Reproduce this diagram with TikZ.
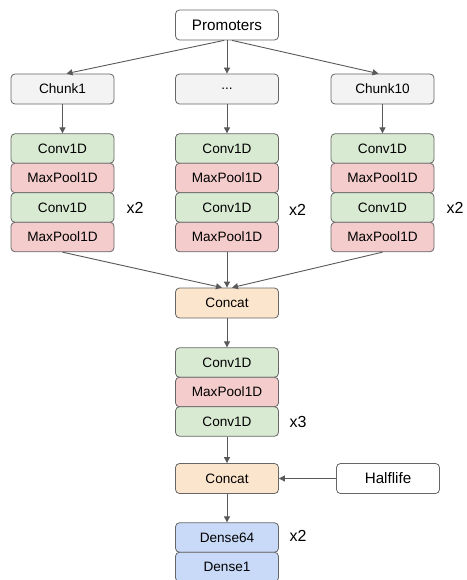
\documentclass[tikz,border=0pt]{standalone}
\usepackage{fontspec}
\setmainfont{Liberation Sans}
\usetikzlibrary{arrows.meta,calc}
\definecolor{bordc}{HTML}{666666}
\definecolor{arrc}{HTML}{595959}
\definecolor{convc}{HTML}{D9EAD3}
\definecolor{poolc}{HTML}{F4CCCC}
\definecolor{catc}{HTML}{FCE5CD}
\definecolor{densec}{HTML}{C9DAF8}
\definecolor{chunkc}{HTML}{F3F3F3}
\tikzset{
  layer/.style={draw=bordc, line width=0.8pt, rounded corners=4pt, minimum width=103pt, minimum height=29.5pt, inner sep=0pt, font=\fontsize{13.6}{15}\selectfont},
  conv/.style={layer, fill=convc},
  pool/.style={layer, fill=poolc},
  cat/.style={layer, fill=catc, minimum height=30pt},
  dense/.style={layer, fill=densec},
  chunk/.style={layer, fill=chunkc, minimum height=30pt},
  inbox/.style={layer, fill=white, minimum height=30pt, font=\fontsize{15.2}{17}\selectfont},
  rep/.style={font=\fontsize{16}{18}\selectfont, inner sep=0pt},
  arr/.style={draw=arrc, line width=0.9pt, -{Triangle[length=6pt,width=6pt]}}
}
\begin{document}
\begin{tikzpicture}[x=1pt,y=-1pt]
\useasboundingbox (0,0) rectangle (466,580);
\node[inbox] (prom) at (227,25) {Promoters};
\node[chunk] (ch1) at (62.5,89) {Chunk1};
\node[chunk] (chm) at (227,89) {...};
\node[chunk] (ch10) at (382.5,89) {Chunk10};
% stacks
\foreach \n/\x in {a/62.5, b/227, c/382.5}{
  \node[conv] (c1\n) at (\x,148.5) {Conv1D};
  \node[pool] (p1\n) at (\x,178) {MaxPool1D};
  \node[conv] (c2\n) at (\x,207.5) {Conv1D};
  \node[pool] (p2\n) at (\x,237) {MaxPool1D};
}
\node[rep] (xa) at (135,208) {x2};
\node[rep] (xb) at (297.5,210) {x2};
\node[rep] (xc) at (455,208) {x2};
\node[cat] (cat1) at (227,303) {Concat};
\node[conv] (c3) at (227,362.5) {Conv1D};
\node[pool] (p3) at (227,392) {MaxPool1D};
\node[conv] (c4) at (227,421.5) {Conv1D};
\node[rep] (x3) at (298,422) {x3};
\node[cat] (cat2) at (227,478.5) {Concat};
\node[inbox] (half) at (388,478.5) {Halflife};
\node[dense] (d64) at (227,537.5) {Dense64};
\node[dense] (d1) at (227,567) {Dense1};
\node[rep] (x4) at (298,536) {x2};
% arrows
\draw[arr] ($(prom.south)+(-3,0)$) -- ($(ch1.north)+(4,0)$);
\draw[arr] (prom.south) -- (chm.north);
\draw[arr] ($(prom.south)+(5,0)$) -- ($(ch10.north)+(-4,0)$);
\draw[arr] (ch1.south) -- (c1a.north);
\draw[arr] (chm.south) -- (c1b.north);
\draw[arr] (ch10.south) -- (c1c.north);
\draw[arr] (p2a.south) -- ($(cat1.north)+(-5,0)$);
\draw[arr] (p2b.south) -- (cat1.north);
\draw[arr] (p2c.south) -- ($(cat1.north)+(5,0)$);
\draw[arr] (cat1.south) -- (c3.north);
\draw[arr] (c4.south) -- (cat2.north);
\draw[arr] (half.west) -- (cat2.east);
\draw[arr] (cat2.south) -- (d64.north);
\end{tikzpicture}
\end{document}
